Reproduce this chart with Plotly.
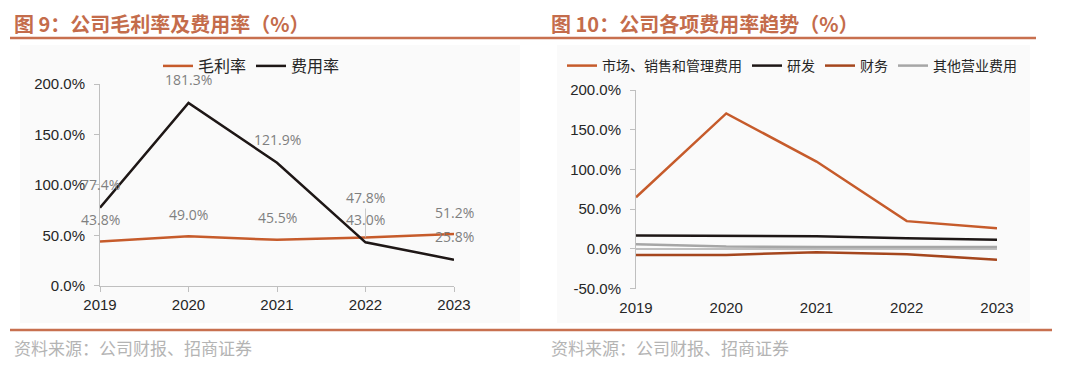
import plotly.graph_objects as go

years = [2019, 2020, 2021, 2022, 2023]
gross_margin = [43.8, 49.0, 45.5, 47.8, 51.2]
expense_rate = [77.4, 181.3, 121.9, 43.0, 25.8]

sga = [65.0, 170.5, 110.0, 35.0, 26.0]
rnd = [17.0, 16.5, 16.0, 13.5, 11.5]
finance = [-7.5, -7.5, -4.0, -6.5, -13.5]
other = [6.0, 3.0, 2.5, 2.5, 2.5]

left_title = "图 9：公司毛利率及费用率（%）"
right_title = "图 10：公司各项费用率趋势（%）"
source_text = "资料来源：公司财报、招商证券"
left_yticks = [0, 50, 100, 150, 200]
right_yticks = [-50, 0, 50, 100, 150, 200]

W, H = 1080, 367
def px(x):
    return x / W
def py(y):
    return 1 - y / H

ORANGE = "#C65B2B"
BROWN = "#A5461D"
BLACK = "#1E1716"
GRAY = "#A6A6A6"
TITLE = "#C46C4B"
AXIS = "#BFBFBF"
LABEL = "#7F7F7F"
TXT = "#262626"
FONT = "Liberation Sans, Noto Sans CJK SC"
CJK = "Noto Sans CJK SC"

fig = go.Figure()

fig.add_trace(go.Scatter(x=years, y=gross_margin, name="毛利率", mode="lines",
                         line=dict(color=ORANGE, width=2.5), xaxis="x", yaxis="y", legend="legend"))
fig.add_trace(go.Scatter(x=years, y=expense_rate, name="费用率", mode="lines",
                         line=dict(color=BLACK, width=2.5), xaxis="x", yaxis="y", legend="legend"))

fig.add_trace(go.Scatter(x=years, y=sga, name="市场、销售和管理费用", mode="lines",
                         line=dict(color=ORANGE, width=2.5), xaxis="x2", yaxis="y2", legend="legend2"))
fig.add_trace(go.Scatter(x=years, y=rnd, name="研发", mode="lines",
                         line=dict(color=BLACK, width=2.5), xaxis="x2", yaxis="y2", legend="legend2"))
fig.add_trace(go.Scatter(x=years, y=finance, name="财务", mode="lines",
                         line=dict(color=BROWN, width=2.5), xaxis="x2", yaxis="y2", legend="legend2"))
fig.add_trace(go.Scatter(x=years, y=other, name="其他营业费用", mode="lines",
                         line=dict(color=GRAY, width=2.5), xaxis="x2", yaxis="y2", legend="legend2"))

lab_font = dict(family="Open Sans", size=14, color=LABEL)
annotations = []
for yr, v in zip(years, gross_margin):
    if yr == 2022:
        annotations.append(dict(x=yr, y=v, xref="x", yref="y", text=f"{v:.1f}%",
                                showarrow=True, ax=0, ay=-40, arrowhead=0, arrowwidth=0.8,
                                arrowcolor="#BFBFBF", standoff=0, startstandoff=0, font=lab_font))
    else:
        annotations.append(dict(x=yr, y=v, xref="x", yref="y", text=f"{v:.1f}%",
                                showarrow=False, yshift=22, font=lab_font))
for yr, v in zip(years, expense_rate):
    annotations.append(dict(x=yr, y=v, xref="x", yref="y", text=f"{v:.1f}%",
                            showarrow=False, yshift=23, font=lab_font))

annotations += [
    dict(x=px(12), y=py(24), xref="paper", yref="paper", xanchor="left", yanchor="middle",
         text=f"<b>{left_title}</b>", showarrow=False, font=dict(family=CJK, size=20, color=TITLE)),
    dict(x=px(549), y=py(24), xref="paper", yref="paper", xanchor="left", yanchor="middle",
         text=f"<b>{right_title}</b>", showarrow=False, font=dict(family=CJK, size=20, color=TITLE)),
    dict(x=px(12), y=py(347), xref="paper", yref="paper", xanchor="left", yanchor="middle",
         text=source_text, showarrow=False, font=dict(family=CJK, size=17, color="#B4B4B4")),
    dict(x=px(549), y=py(347), xref="paper", yref="paper", xanchor="left", yanchor="middle",
         text=source_text, showarrow=False, font=dict(family=CJK, size=17, color="#B4B4B4")),
]

shapes = [
    dict(type="rect", xref="paper", yref="paper", x0=px(20), x1=px(520), y0=py(323), y1=py(45),
         fillcolor="#FAFAFA", line=dict(width=0), layer="below"),
    dict(type="rect", xref="paper", yref="paper", x0=px(557), x1=px(1030), y0=py(323), y1=py(45),
         fillcolor="#FAFAFA", line=dict(width=0), layer="below"),
    dict(type="line", xref="paper", yref="paper", x0=px(10), x1=px(1036), y0=py(38), y1=py(38),
         line=dict(color="#C8704F", width=2.5)),
    dict(type="line", xref="paper", yref="paper", x0=px(10), x1=px(1052), y0=py(330), y1=py(330),
         line=dict(color="#C8704F", width=2.5)),
]

tickfont = dict(family=FONT, size=15, color=TXT)

fig.update_layout(
    width=W, height=H, margin=dict(l=0, r=0, t=0, b=0, autoexpand=False),
    paper_bgcolor="white", plot_bgcolor="rgba(0,0,0,0)",
    showlegend=True,
    xaxis=dict(domain=[px(100), px(454)], range=[2019, 2023], tickvals=years,
               ticktext=[str(y) for y in years], showgrid=False, zeroline=False,
               showline=True, linecolor=AXIS, ticks="outside", tickcolor=AXIS, ticklen=5,
               anchor="y", tickfont=tickfont, automargin=False),
    yaxis=dict(domain=[py(285.7), py(84)], range=[0, 200], tickvals=left_yticks,
               ticktext=[f"{v:.1f}%" for v in left_yticks], showgrid=False, zeroline=False,
               showline=True, linecolor=AXIS, ticks="outside", tickcolor=AXIS,
               ticklen=5, anchor="x", ticklabelstandoff=6, tickfont=tickfont, automargin=False),
    xaxis2=dict(domain=[px(636), px(997)], range=[2019, 2023], tickvals=years,
                ticktext=[str(y) for y in years], showgrid=False, zeroline=False,
                showline=False, ticks="", anchor="y2", ticklabelstandoff=8, tickfont=tickfont,
                automargin=False),
    yaxis2=dict(domain=[py(288.7), py(90)], range=[-50, 200], tickvals=right_yticks,
                ticktext=[f"{v:.1f}%" for v in right_yticks], showgrid=False,
                showline=True, linecolor=AXIS, ticks="outside", tickcolor=AXIS,
                ticklen=5, anchor="x2", ticklabelstandoff=6,
                zeroline=True, zerolinecolor=AXIS, zerolinewidth=1.5,
                tickfont=tickfont, automargin=False),
    legend=dict(orientation="h", x=px(158), y=py(66), xanchor="left", yanchor="middle",
                font=dict(family=CJK, size=16, color=TXT), bgcolor="rgba(0,0,0,0)",
                itemwidth=30, tracegroupgap=0),
    legend2=dict(orientation="h", x=px(562), y=py(66), xanchor="left", yanchor="middle",
                 font=dict(family=CJK, size=14, color=TXT), bgcolor="rgba(0,0,0,0)",
                 itemwidth=30, tracegroupgap=0),
    annotations=annotations,
    shapes=shapes,
)

fig.write_html("out.html", config={"displayModeBar": False},
               post_script="document.body.style.margin='0px';")
